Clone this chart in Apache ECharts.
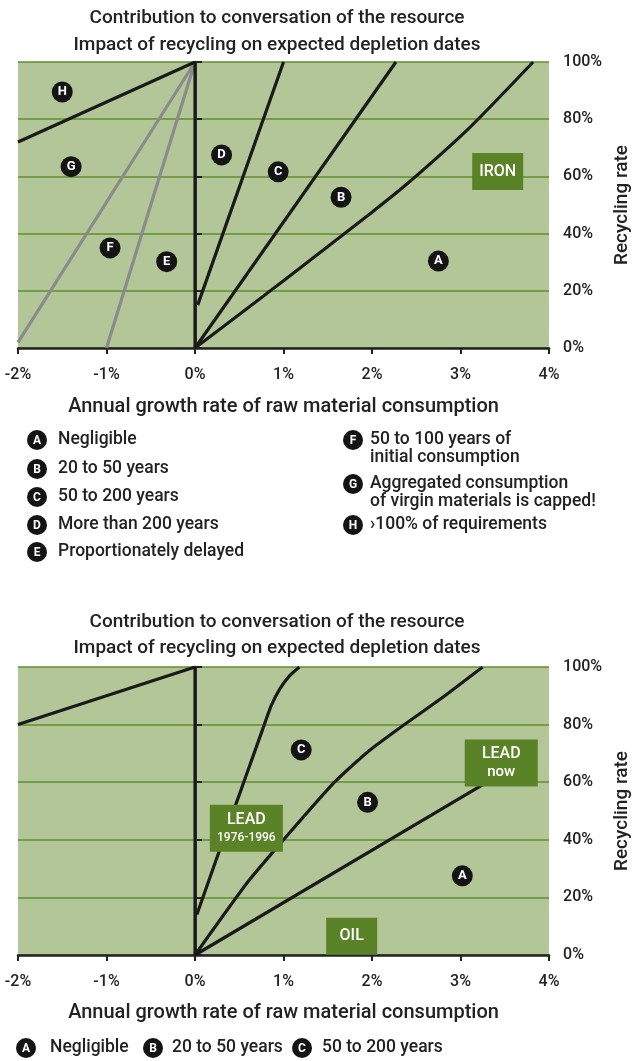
<!DOCTYPE html>
<html>
<head>
<meta charset="utf-8">
<script src="https://cdn.jsdelivr.net/npm/echarts@6/dist/echarts.min.js"></script>
<style>
html,body{margin:0;padding:0;background:#fff;}
#chart{width:640px;height:1061px;}
</style>
</head>
<body>
<div id="chart"></div>
<script>
// ---------- DATA ----------
const titleLines = ['Contribution to conversation of the resource', 'Impact of recycling on expected depletion dates'];
const xAxisName = 'Annual growth rate of raw material consumption';
const yAxisName = 'Recycling rate';
const xTickValues = [-2, -1, 0, 1, 2, 3, 4];
const yTickValues = [0, 20, 40, 60, 80, 100];

// Top chart (iron)
const topZeroLine = [[0, 0], [0, 100]];
const topLineH = [[-2, 72], [0, 100]];
const topLineG = [[-2, 2], [0, 100]];
const topLineF = [[-1, 0], [0, 100]];
const topLineD = [[0.03, 15], [1.0, 100]];
const topLineC = [[0, 0], [2.27, 100]];
const topLineB = [[0, 0], [1.0, 23.5], [2.0, 47.5], [2.4, 57.5], [3.1, 77], [3.82, 100]];
const topLetters = [['H', -1.5, 89.5], ['G', -1.4, 63.4], ['F', -0.96, 35], ['E', -0.32, 30.2],
                    ['D', 0.3, 67.5], ['C', 0.94, 61.6], ['B', 1.65, 52.7], ['A', 2.75, 30.4]];
const topBoxes = [['IRON', '', 3.42, 61.7]];

// Bottom chart (lead / oil)
const botZeroLine = [[0, 0], [0, 100]];
const botLineLeft = [[-2, 80], [0, 100]];
const botLineC = [[0.02, 14], [0.4, 47], [0.76, 78], [0.86, 86.5], [0.96, 92.5], [1.07, 97], [1.18, 100]];
const botLineB = [[0, 0], [0.6, 25.5], [1.0, 40], [1.56, 59.5], [1.95, 70.5], [2.32, 79], [2.8, 89.5], [3.25, 100]];
const botLineA = [[0, 0], [3.3, 60]];
const botLetters = [['C', 1.2, 71.2], ['B', 1.95, 53], ['A', 3.02, 27.5]];
const botBoxes = [['LEAD', '1976-1996', 0.58, 44], ['LEAD', 'now', 3.46, 66.7], ['OIL', '', 1.77, 6.5]];

// Legends
const legendTopLeft = [['A', 'Negligible'], ['B', '20 to 50 years'], ['C', '50 to 200 years'],
                       ['D', 'More than 200 years'], ['E', 'Proportionately delayed']];
const legendTopRight = [['F', '50 to 100 years of\ninitial consumption'],
                        ['G', 'Aggregated consumption\nof virgin materials is capped!'],
                        ['H', '›100% of requirements']];
const legendBottom = [['A', 'Negligible'], ['B', '20 to 50 years'], ['C', '50 to 200 years']];

// ---------- STYLE / LAYOUT ----------
const FONT = 'Roboto, "Open Sans", sans-serif';
const TXT = '#222';
const BG = '#b3c698';
const GRIDC = '#5f8f2f';
const BOXC = '#5a8226';
const BLACK = '#1a1a1a';
const GRAY = '#8b8b8b';

const grids = [
  { left: 18, right: 85, top: 62, height: 286 },
  { left: 18, right: 85, top: 667, height: 288 }
];
const nameGaps = [49, 48];

const chart = echarts.init(document.getElementById('chart'), null, { renderer: 'canvas' });

function lineS(data, gi, color, smooth) {
  return {
    type: 'line', xAxisIndex: gi, yAxisIndex: gi, data: data,
    showSymbol: false, symbol: 'none', smooth: smooth || false, silent: true,
    lineStyle: { color: color, width: 3.2, cap: 'butt' }, z: 3
  };
}
function letterS(list, gi) {
  return {
    type: 'scatter', xAxisIndex: gi, yAxisIndex: gi, silent: true, z: 6,
    data: list.map(l => [l[1], l[2], l[0]]),
    symbol: 'circle', symbolSize: 21,
    itemStyle: { color: '#141414', opacity: 1 },
    label: { show: true, position: 'inside', formatter: p => p.data[2],
             color: '#fff', fontSize: 13, fontWeight: 'bold', fontFamily: FONT }
  };
}
function boxS(list, gi) {
  return {
    type: 'scatter', xAxisIndex: gi, yAxisIndex: gi, silent: true, z: 7,
    data: list.map(b => ({ value: [b[2], b[3]], name: b[0], sub: b[1],
                           symbolSize: b[1] ? [73, 47] : [51, 37] })),
    symbol: 'rect',
    itemStyle: { color: BOXC, opacity: 1 },
    label: {
      show: true, position: 'inside',
      formatter: p => p.data.sub ? ('{a|' + p.data.name + '}\n{' + (p.data.sub === 'now' ? 'n' : 'b') + '|' + p.data.sub + '}') : '{a|' + p.data.name + '}',
      rich: {
        a: { color: '#fff', fontSize: 16, fontWeight: 500, fontFamily: FONT, lineHeight: 19 },
        n: { color: '#fff', fontSize: 15, fontWeight: 500, fontFamily: FONT, lineHeight: 17 },
        b: { color: '#fff', fontSize: 12, fontWeight: 500, fontFamily: FONT, lineHeight: 17 }
      }
    }
  };
}

const xAxes = grids.map((g, i) => ({
  gridIndex: i, type: 'value', min: -2, max: 4, interval: 1,
  axisLine: { show: true, onZero: false, lineStyle: { color: TXT, width: 2.5 } },
  axisTick: { show: true, length: 6, lineStyle: { color: TXT, width: 2 } },
  axisLabel: { formatter: v => v + '%', color: TXT, fontSize: 16, fontWeight: 500, margin: 19, fontFamily: FONT },
  splitLine: { show: false },
  name: xAxisName, nameLocation: 'middle', nameGap: nameGaps[i],
  nameTextStyle: { fontSize: 20, fontWeight: 500, color: TXT, fontFamily: FONT }
}));
const yAxes = grids.map((g, i) => ({
  gridIndex: i, type: 'value', position: 'right', min: 0, max: 100, interval: 20,
  axisLine: { show: true, lineStyle: { color: TXT, width: 2.5 } },
  axisTick: { show: true, length: 7, lineStyle: { color: TXT, width: 2 } },
  axisLabel: { formatter: v => v + '%', color: TXT, fontSize: 16, fontWeight: 500, margin: 14, fontFamily: FONT },
  splitLine: { show: true, lineStyle: { color: GRIDC, width: 1.5 } },
  name: yAxisName, nameLocation: 'middle', nameGap: 60, nameRotate: 90,
  nameTextStyle: { fontSize: 19, fontWeight: 500, color: TXT, fontFamily: FONT }
}));

// graphic: titles + legends
const graphics = [];
const titleY = [[18, 45], [622, 648]];
titleY.forEach(ys => {
  titleLines.forEach((t, k) => {
    graphics.push({ type: 'text', x: 277, y: ys[k], silent: true,
      style: { text: t, fill: TXT, font: '500 19px ' + FONT, textAlign: 'center', textVerticalAlign: 'middle' } });
  });
});
function legendItem(letter, text, cx, cy, tx) {
  graphics.push({ type: 'circle', silent: true, shape: { cx: cx, cy: cy, r: 10 }, style: { fill: '#141414' } });
  graphics.push({ type: 'text', x: cx, y: cy + 0.5, silent: true,
    style: { text: letter, fill: '#fff', font: 'bold 12px ' + FONT, textAlign: 'center', textVerticalAlign: 'middle' } });
  const lines = text.split('\n');
  lines.forEach((ln, k) => {
    graphics.push({ type: 'text', x: tx, y: cy + k * 18, silent: true,
      style: { text: ln, fill: TXT, font: '500 17.5px ' + FONT, textAlign: 'left', textVerticalAlign: 'middle' } });
  });
}
const leftRows = [440, 469, 497, 525, 552];
legendTopLeft.forEach((l, k) => legendItem(l[0], l[1], 37, leftRows[k], 58));
const rightRows = [440, 484, 525];
legendTopRight.forEach((l, k) => legendItem(l[0], l[1], 353, rightRows[k], 370));
const botCols = [[26, 50], [153, 172], [302, 322]];
legendBottom.forEach((l, k) => legendItem(l[0], l[1], botCols[k][0], 1048, botCols[k][1]));

const option = {
  animation: false,
  backgroundColor: '#fff',
  grid: grids.map(g => Object.assign({ show: true, backgroundColor: BG, borderWidth: 0 }, g)),
  xAxis: xAxes,
  yAxis: yAxes,
  graphic: graphics,
  series: [
    lineS(topLineG, 0, GRAY),
    lineS(topLineF, 0, GRAY),
    lineS(topLineH, 0, BLACK),
    lineS(topZeroLine, 0, BLACK),
    lineS(topLineD, 0, BLACK),
    lineS(topLineC, 0, BLACK),
    lineS(topLineB, 0, BLACK, 0.25),
    letterS(topLetters, 0),
    boxS(topBoxes, 0),
    lineS(botLineLeft, 1, BLACK),
    lineS(botZeroLine, 1, BLACK),
    lineS(botLineC, 1, BLACK, 0.2),
    lineS(botLineB, 1, BLACK, 0.2),
    lineS(botLineA, 1, BLACK),
    letterS(botLetters, 1),
    boxS(botBoxes, 1)
  ]
};
chart.setOption(option);
</script>
</body>
</html>
